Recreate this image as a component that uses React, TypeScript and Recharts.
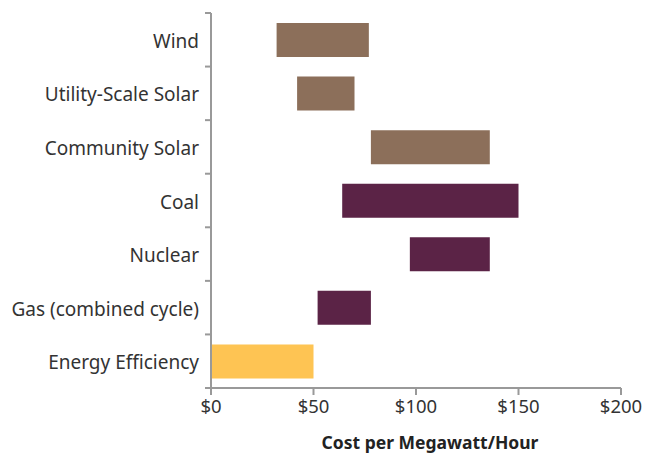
import { BarChart, Bar, XAxis, YAxis, Cell } from 'recharts';

// Cost ranges ($/MWh), low and high end of each bar
const categories = [
  'Wind',
  'Utility-Scale Solar',
  'Community Solar',
  'Coal',
  'Nuclear',
  'Gas (combined cycle)',
  'Energy Efficiency',
];
const lowCost = [32, 42, 78, 64, 97, 52, 0];
const highCost = [77, 70, 136, 150, 136, 78, 50];
const xTicks = [0, 50, 100, 150, 200];

const BROWN = '#8c6f5a';
const PLUM = '#5b2346';
const GOLD = '#fec453';
const barColors = [BROWN, BROWN, BROWN, PLUM, PLUM, PLUM, GOLD];

const data = categories.map((name, i) => ({
  name,
  range: [lowCost[i], highCost[i]],
}));

const FONT = '"Noto Sans", sans-serif';
const AXIS = '#999999';
const BAND = (388 - 13) / categories.length;

// label at band centre, tick line at band edges (like the original)
const CategoryTick = ({ x, y, payload, index }: any) => (
  <g>
    <text
      x={x - 12}
      y={y + 1}
      textAnchor="end"
      dominantBaseline="central"
      fill="#333"
      fontSize={19}
      fontFamily={FONT}
    >
      {payload.value}
    </text>
    <line x1={x - 6} x2={x} y1={y - BAND / 2} y2={y - BAND / 2} stroke={AXIS} strokeWidth={2} />
    {index === categories.length - 1 && (
      <line x1={x - 6} x2={x} y1={y + BAND / 2} y2={y + BAND / 2} stroke={AXIS} strokeWidth={2} />
    )}
  </g>
);

export default function App() {
  return (
    <div style={{ position: 'absolute', left: 0, top: 0, background: '#fff' }}>
      <BarChart
        width={645}
        height={455}
        data={data}
        layout="vertical"
        margin={{ top: 13, right: 24, left: 0, bottom: 0 }}
        barSize={34}
      >
        <XAxis
          type="number"
          domain={[0, 200]}
          ticks={xTicks}
          tickFormatter={(v) => `$${v}`}
          height={67}
          stroke={AXIS}
          strokeWidth={2}
          tickSize={7}
          tickMargin={5}
          tick={{ fill: '#333', fontSize: 18.5, fontFamily: FONT }}
          interval={0}
          label={{
            value: 'Cost per Megawatt/Hour',
            position: 'insideBottom',
            offset: 6,
            dx: 14,
            fill: '#222',
            fontSize: 17.5,
            fontWeight: 700,
            fontFamily: FONT,
          }}
        />
        <YAxis
          type="category"
          dataKey="name"
          width={211}
          stroke={AXIS}
          strokeWidth={2}
          tickLine={false}
          tickSize={0}
          tickMargin={0}
          tick={<CategoryTick />}
          interval={0}
        />
        <Bar dataKey="range" isAnimationActive={false}>
          {data.map((d, i) => (
            <Cell key={d.name} fill={barColors[i]} />
          ))}
        </Bar>
      </BarChart>
    </div>
  );
}
